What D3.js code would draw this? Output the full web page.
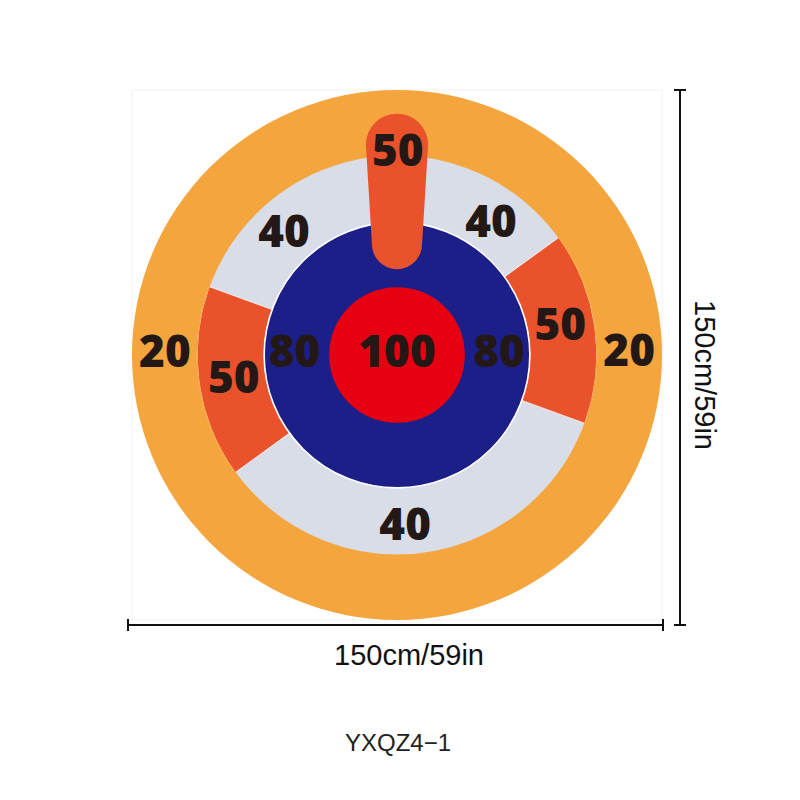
<!DOCTYPE html>
<html>
<head>
<meta charset="utf-8">
<script src="https://cdn.jsdelivr.net/npm/d3@7"></script>
<style>
  html,body{margin:0;padding:0;background:#fff;}
  svg{display:block;}
</style>
</head>
<body>
<svg id="chart" width="800" height="800"></svg>
<script>
// ---- data (board units in cm, angles in degrees, d3 convention: 0 = up, clockwise) ----
const boardSize = 150;              // cm
const boardLabel = "150cm/59in";
const modelLabel = "YXQZ4\u22121";

const rings = [                    // outer radius (cm), fill, score
  {name: "outer",  r: 75.0, score: 20,  fill: "#F4A53D"},
  {name: "gray",   r: 56.6, score: 40,  fill: "#D9DDE8"},
  {name: "blue",   r: 37.6, score: 80,  fill: "#1D1F88"},
  {name: "bull",   r: 19.2, score: 100, fill: "#E60012"}
];
const wedges = [                   // sectors on the gray ring, scored 50
  {start: 54,  end: 110, score: 50},
  {start: 234, end: 290, score: 50}
];
const capsule = {topY: -68.3, bottomY: -24.3, topR: 8.8, bottomR: 7.1, score: 50};

// score labels: text, x (cm from centre), baseline y (cm from centre)
const labels = [
  {t: "50",  x: 0.2,   y: -53.5},
  {t: "40",  x: -32.0, y: -30.6},
  {t: "40",  x: 26.6,  y: -33.4},
  {t: "20",  x: -65.7, y: 3.4},
  {t: "20",  x: 65.7,  y: 3.1},
  {t: "50",  x: 46.2,  y: -4.2},
  {t: "50",  x: -46.2, y: 10.8},
  {t: "80",  x: -29.0, y: 3.4},
  {t: "80",  x: 28.9,  y: 3.4},
  {t: "100", x: 0.0,   y: 3.4},
  {t: "40",  x: 2.3,   y: 52.4}
];

// ---- layout ----
const svg = d3.select("#chart");
const cx = 397, cy = 355;
const s = d3.scaleLinear().domain([0, boardSize / 2]).range([0, 265]);
const deg = d => d * Math.PI / 180;

// faint frame of the product photo
svg.append("rect")
  .attr("x", cx - s(75)).attr("y", cy - s(75))
  .attr("width", s(150)).attr("height", s(150))
  .attr("fill", "none").attr("stroke", "#f1f1f1").attr("stroke-width", 1);

const g = svg.append("g").attr("transform", `translate(${cx},${cy})`);

// outer orange + gray ring
g.append("circle").attr("r", s(rings[0].r)).attr("fill", rings[0].fill);
g.append("circle").attr("r", s(rings[1].r)).attr("fill", rings[1].fill);

// wedges
const arc = d3.arc();
g.selectAll("path.wedge").data(wedges).join("path")
  .attr("class", "wedge")
  .attr("d", d => arc({innerRadius: s(rings[2].r), outerRadius: s(rings[1].r),
                       startAngle: deg(d.start), endAngle: deg(d.end)}))
  .attr("fill", "#E9522A")
  .attr("stroke", "#ffffff").attr("stroke-width", 0.8);
g.append("circle").attr("r", s(rings[1].r)).attr("fill", "none")
  .attr("stroke", rings[0].fill).attr("stroke-width", 1.2);

// blue circle with white separation line, then bull
g.append("circle").attr("r", s(rings[2].r)).attr("fill", rings[2].fill)
  .attr("stroke", "#ffffff").attr("stroke-width", 1.6);
g.append("circle").attr("r", s(rings[3].r)).attr("fill", rings[3].fill);

// capsule (tapered, rounded ends)
(function () {
  const rt = s(capsule.topR), rb = s(capsule.bottomR);
  const ctY = -s(-capsule.topY) + rt;
  const cbY = -s(-capsule.bottomY) - rb;
  const p = d3.path();
  p.moveTo(-rt, ctY);
  p.arc(0, ctY, rt, Math.PI, 0);
  p.lineTo(rb, cbY);
  p.arc(0, cbY, rb, 0, Math.PI);
  p.closePath();
  g.append("path").attr("d", p.toString()).attr("fill", "#E9522A");
})();

// score labels
const sx = v => Math.sign(v) * s(Math.abs(v));
g.selectAll("text.score").data(labels).join("text")
  .attr("class", "score")
  .attr("x", d => sx(d.x))
  .attr("y", d => sx(d.y))
  .attr("text-anchor", "middle")
  .attr("font-family", "'Open Sans', 'DejaVu Sans', sans-serif")
  .attr("font-weight", 800)
  .attr("font-size", 44)
  .attr("fill", "#231815")
  .text(d => d.t);

// ---- dimension lines ----
const x0 = cx - s(75) - 4, x1 = cx + s(75) + 1;
const yDim = 625;
const dim = svg.append("g").attr("stroke", "#111").attr("stroke-width", 2).attr("fill", "none");
dim.append("line").attr("x1", x0).attr("x2", x1).attr("y1", yDim).attr("y2", yDim);
dim.append("line").attr("x1", x0).attr("x2", x0).attr("y1", yDim - 6).attr("y2", yDim + 6);
dim.append("line").attr("x1", x1).attr("x2", x1).attr("y1", yDim - 6).attr("y2", yDim + 6);

const xDim = 680;
const y0 = cy - s(75), y1 = yDim;
dim.append("line").attr("x1", xDim).attr("x2", xDim).attr("y1", y0).attr("y2", y1);
dim.append("line").attr("x1", xDim - 6).attr("x2", xDim + 6).attr("y1", y0).attr("y2", y0);
dim.append("line").attr("x1", xDim - 6).attr("x2", xDim + 6).attr("y1", y1).attr("y2", y1);

svg.append("text")
  .attr("x", 409).attr("y", 665)
  .attr("text-anchor", "middle")
  .attr("font-family", "'Liberation Sans', Arial, sans-serif")
  .attr("font-size", 29)
  .attr("fill", "#111")
  .text(boardLabel);

svg.append("text")
  .attr("transform", "translate(695,375) rotate(90)")
  .attr("text-anchor", "middle")
  .attr("font-family", "'Liberation Sans', Arial, sans-serif")
  .attr("font-size", 29)
  .attr("fill", "#111")
  .text(boardLabel);

svg.append("text")
  .attr("x", 398).attr("y", 751)
  .attr("text-anchor", "middle")
  .attr("font-family", "'Liberation Sans', Arial, sans-serif")
  .attr("font-size", 24)
  .attr("fill", "#222")
  .text(modelLabel);
</script>
</body>
</html>
